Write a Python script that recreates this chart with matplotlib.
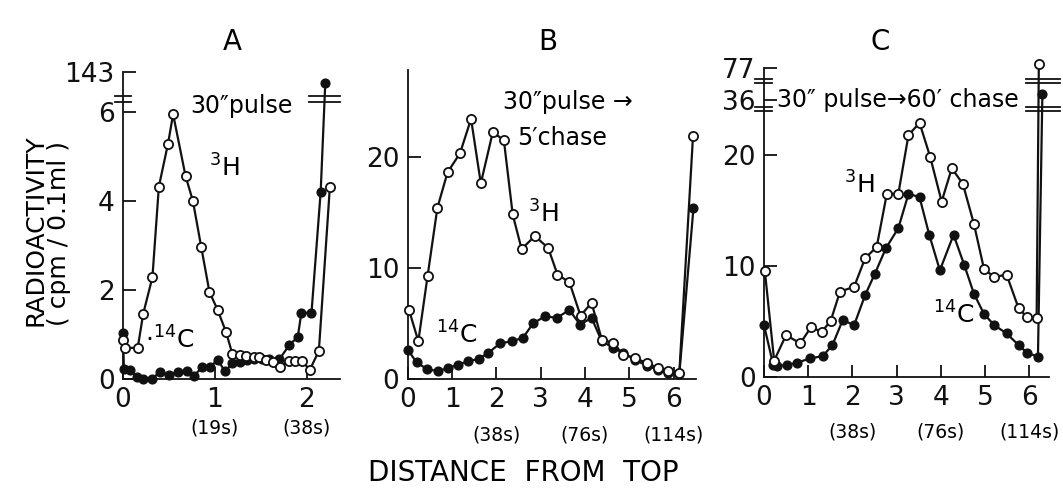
import numpy as np
import matplotlib
matplotlib.use('Agg')
import matplotlib.pyplot as plt

plt.rcParams['font.family'] = ['DejaVu Sans']

# ---------------- data ----------------
# Panel A : 30" pulse
a_h3_x = [0.0, 0.02, 0.16, 0.22, 0.32, 0.39, 0.49, 0.545, 0.68, 0.76, 0.85, 0.94, 1.03, 1.12,
          1.19, 1.27, 1.34, 1.42, 1.48, 1.55, 1.63, 1.71, 1.80, 1.87, 1.95, 2.03, 2.13, 2.25]
a_h3_y = [0.88, 0.7, 0.7, 1.47, 2.29, 4.33, 5.3, 5.96, 4.57, 4.01, 2.98, 1.96, 1.55, 1.06,
          0.56, 0.54, 0.52, 0.5, 0.49, 0.43, 0.39, 0.28, 0.41, 0.41, 0.41, 0.2, 0.63, 4.33]
a_c14_x = [0.0, 0.01, 0.08, 0.15, 0.22, 0.31, 0.40, 0.50, 0.60, 0.70, 0.77, 0.86, 0.95, 1.03,
           1.11, 1.19, 1.27, 1.35, 1.43, 1.51, 1.59, 1.70, 1.81, 1.90, 1.94, 2.05, 2.15, 2.2]
a_c14_y = [1.03, 0.22, 0.2, 0.04, 0.0, 0.0, 0.15, 0.1, 0.15, 0.19, 0.07, 0.26, 0.28, 0.43,
           0.17, 0.36, 0.39, 0.43, 0.45, 0.45, 0.44, 0.44, 0.77, 0.94, 1.49, 1.49, 4.22, 89]

# Panel B : 30" pulse -> 5' chase
b_h3_x = [0.03, 0.24, 0.45, 0.67, 0.9, 1.18, 1.43, 1.65, 1.92, 2.17, 2.37, 2.57, 2.87, 3.17,
          3.38, 3.65, 3.9, 4.15, 4.38, 4.64, 4.86, 5.13, 5.39, 5.65, 5.88, 6.13, 6.44]
b_h3_y = [6.2, 3.4, 9.3, 15.4, 18.6, 20.3, 23.4, 17.6, 22.2, 21.5, 14.8, 11.7, 12.85, 11.8,
          9.4, 8.7, 5.7, 6.85, 3.55, 3.24, 2.2, 1.9, 1.44, 1.0, 0.7, 0.54, 21.9]
b_c14_x = [0.0, 0.2, 0.43, 0.68, 0.92, 1.14, 1.37, 1.6, 1.82, 2.08, 2.35, 2.6, 2.83, 3.1,
           3.36, 3.65, 3.89, 4.15, 4.38, 4.64, 4.86, 5.13, 5.39, 5.65, 5.88, 6.13, 6.45]
b_c14_y = [2.64, 1.5, 0.9, 0.7, 1.0, 1.3, 1.6, 1.8, 2.34, 3.2, 3.4, 3.7, 5.0, 5.65,
           5.5, 6.2, 4.9, 5.5, 3.4, 2.8, 2.34, 1.74, 1.2, 0.84, 0.54, 0.45, 15.4]

# Panel C : 30" pulse -> 60' chase
c_h3_x = [0.02, 0.23, 0.5, 0.82, 1.06, 1.31, 1.51, 1.72, 2.04, 2.29, 2.55, 2.78, 3.04, 3.27,
          3.52, 3.76, 4.02, 4.25, 4.5, 4.75, 4.98, 5.21, 5.49, 5.76, 5.95, 6.17, 6.22]
c_h3_y = [9.5, 1.45, 3.76, 3.0, 4.45, 4.06, 5.05, 7.67, 8.12, 10.7, 11.7, 16.5, 16.5, 21.8,
          22.9, 19.85, 15.8, 18.8, 17.4, 13.8, 9.7, 9.0, 9.2, 6.2, 5.35, 5.26, 82]
c_c14_x = [0.0, 0.21, 0.3, 0.51, 0.75, 1.04, 1.33, 1.55, 1.78, 2.04, 2.29, 2.51, 2.76, 3.04,
           3.27, 3.52, 3.74, 3.98, 4.29, 4.53, 4.75, 4.98, 5.21, 5.49, 5.76, 5.95, 6.2, 6.3]
c_c14_y = [4.66, 1.05, 0.96, 1.05, 1.26, 1.65, 1.86, 2.86, 5.1, 4.66, 7.37, 9.3, 11.6, 13.4,
           16.5, 16.2, 12.8, 9.6, 12.8, 10.1, 7.5, 5.65, 4.66, 3.9, 2.86, 2.17, 1.8, 43]

a_yticks = [0, 2, 4, 6, 143]
b_yticks = [0, 10, 20]
c_yticks = [0, 10, 20, 36, 77]
a_xticks = [0, 1, 2]
bc_xticks = [0, 1, 2, 3, 4, 5, 6]
a_time = {1: '(19s)', 2: '(38s)'}
bc_time = {2: '(38s)', 4: '(76s)', 6: '(114s)'}

# ---------------- helpers ----------------
W, H = 1063, 490


def broken_scale(kv, kp):
    kv = np.asarray(kv, float)
    kp = np.asarray(kp, float)
    s0 = (kp[1] - kp[0]) / (kv[1] - kv[0])
    s1 = (kp[-1] - kp[-2]) / (kv[-1] - kv[-2])

    def fwd(v):
        v = np.asarray(v, float)
        out = np.interp(v, kv, kp)
        out = np.where(v < kv[0], kp[0] + (v - kv[0]) * s0, out)
        out = np.where(v > kv[-1], kp[-1] + (v - kv[-1]) * s1, out)
        return out

    def inv(p):
        p = np.asarray(p, float)
        out = np.interp(p, kp, kv)
        out = np.where(p < kp[0], kv[0] + (p - kp[0]) / s0, out)
        out = np.where(p > kp[-1], kv[-1] + (p - kp[-1]) / s1, out)
        return out
    return fwd, inv


def style(ax):
    for s in ['top', 'right']:
        ax.spines[s].set_visible(False)
    for s in ['left', 'bottom']:
        ax.spines[s].set_linewidth(1.3)
        ax.spines[s].set_color('#111111')
    ax.tick_params(direction='in', length=9, width=1.3, labelsize=19, pad=6,
                   colors='#111111')
    ax.patch.set_alpha(0)


def draw_series(ax, x, y, filled):
    if filled:
        ax.plot(x, y, '-o', color='#111111', lw=1.6, ms=6.3, mfc='#111111',
                mec='#111111', clip_on=False, zorder=3)
    else:
        ax.plot(x, y, '-o', color='#111111', lw=1.6, ms=6.6, mfc='white',
                mec='#111111', mew=1.3, clip_on=False, zorder=4)


def brk(ax, inv, plotted, x0, x1):
    for p in plotted:
        ax.plot([x0, x1], [float(inv(p)), float(inv(p))], color='#111111', lw=1.3,
                clip_on=False, zorder=5)


def px(x, y):
    return x / W, 1 - y / H


fig = plt.figure(figsize=(W / 100, H / 100), dpi=100)
fig.patch.set_facecolor('white')

# ---------------- Panel A ----------------
axA = fig.add_axes([123 / W, (H - 379) / H, 217 / W, 307 / H])
fA, iA = broken_scale([0, 6.3, 143, 200], [0, 6.3, 6.91, 7.17])
axA.set_yscale('function', functions=(fA, iA))
draw_series(axA, a_c14_x, a_c14_y, True)
draw_series(axA, a_h3_x, a_h3_y, False)
axA.set_xlim(0, 2.36)
axA.set_ylim(0, 143)
axA.set_yticks(a_yticks)
axA.set_yticklabels([str(t) for t in a_yticks])
axA.set_xticks(a_xticks)
axA.set_xticklabels([str(t) for t in a_xticks])
style(axA)
brk(axA, iA, [6.24, 6.36], -0.09, 0.09)
brk(axA, iA, [6.24, 6.36], 2.02, 2.36)
for k, v in a_time.items():
    axA.text(k, -0.16, v, transform=axA.get_xaxis_transform(), ha='center',
             va='center', fontsize=13.5)

# ---------------- Panel B ----------------
axB = fig.add_axes([407.7 / W, (H - 379) / H, 288 / W, 309 / H])
draw_series(axB, b_c14_x, b_c14_y, True)
draw_series(axB, b_h3_x, b_h3_y, False)
axB.set_xlim(0, 6.5)
axB.set_ylim(0, 27.8)
axB.set_yticks(b_yticks)
axB.set_xticks(bc_xticks)
style(axB)
for k, v in bc_time.items():
    axB.text(k, -0.18, v, transform=axB.get_xaxis_transform(), ha='center',
             va='center', fontsize=13.5)

# ---------------- Panel C ----------------
axC = fig.add_axes([764 / W, (H - 376.7) / H, 285 / W, 308.7 / H])
fC, iC = broken_scale([0, 24.2, 36, 77, 100], [0, 24.2, 25.0, 27.85, 29.5])
axC.set_yscale('function', functions=(fC, iC))
draw_series(axC, c_c14_x, c_c14_y, True)
draw_series(axC, c_h3_x, c_h3_y, False)
axC.set_xlim(0, 6.45)
axC.set_ylim(0, 77)
axC.set_yticks(c_yticks)
axC.set_yticklabels([str(t) for t in c_yticks])
axC.set_xticks(bc_xticks)
style(axC)
brk(axC, iC, [24.0, 24.37, 26.5, 26.85], -0.2, 0.18)
brk(axC, iC, [24.0, 24.37, 26.5, 26.85], 5.93, 6.7)
for k, v in bc_time.items():
    axC.text(k, -0.18, v, transform=axC.get_xaxis_transform(), ha='center',
             va='center', fontsize=13.5)

# ---------------- texts ----------------
for letter, x in [('A', 232), ('B', 548), ('C', 880)]:
    fig.text(*px(x, 42), letter, ha='center', va='center', fontsize=20)

fig.text(*px(36, 230), 'RADIOACTIVITY', rotation=90, ha='center', va='center', fontsize=18)
fig.text(*px(59, 233), '( cpm / 0.1ml )', rotation=90, ha='center', va='center', fontsize=18)
fig.text(*px(523, 473), 'DISTANCE  FROM  TOP', ha='center', va='center', fontsize=20)

fig.text(*px(190, 106), '30\u2033pulse', ha='left', va='center', fontsize=17)
fig.text(*px(224, 168), r'$^{3}$H', ha='center', va='center', fontsize=18)
fig.text(*px(170, 340), r'$\cdot^{14}$C', ha='center', va='center', fontsize=18)

fig.text(*px(503, 102), '30\u2033pulse \u2192', ha='left', va='center', fontsize=17)
fig.text(*px(517, 138), '5\u2032chase', ha='left', va='center', fontsize=17)
fig.text(*px(543, 214), r'$^{3}$H', ha='center', va='center', fontsize=18)
fig.text(*px(457, 335), r'$^{14}$C', ha='center', va='center', fontsize=18)

fig.text(*px(777, 100), '30\u2033 pulse\u219260\u2032 chase', ha='left', va='center', fontsize=17)
fig.text(*px(859, 185), r'$^{3}$H', ha='center', va='center', fontsize=18)
fig.text(*px(954, 315), r'$^{14}$C', ha='center', va='center', fontsize=18)

fig.savefig('out.png', dpi=100, facecolor='white')
